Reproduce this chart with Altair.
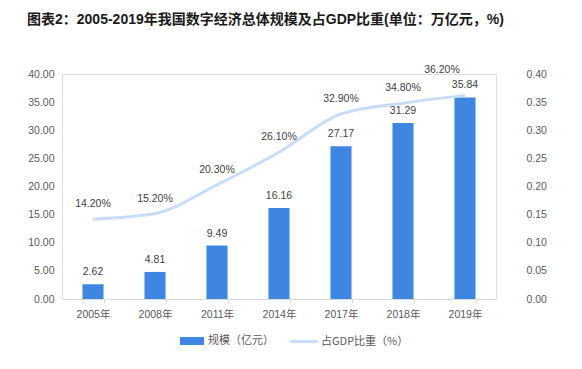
import altair as alt
import pandas as pd

years = ["2005年", "2008年", "2011年", "2014年", "2017年", "2018年", "2019年"]
scale_vals = [2.62, 4.81, 9.49, 16.16, 27.17, 31.29, 35.84]
share_vals = [0.142, 0.152, 0.203, 0.261, 0.329, 0.348, 0.362]
left_ticks = [0, 5, 10, 15, 20, 25, 30, 35, 40]
right_ticks = [0, 0.05, 0.10, 0.15, 0.20, 0.25, 0.30, 0.35, 0.40]

df = pd.DataFrame({
    "year": years,
    "scale": scale_vals,
    "share": share_vals,
    "s1": "规模（亿元）",
    "s2": "占GDP比重（%）",
})

FONT = "Liberation Sans, Noto Sans CJK SC"
FS = 10.5
BAR = "#3f86e0"
LINE = "#c6dcf7"

x = alt.X("year:N", sort=years, title=None,
          scale=alt.Scale(paddingInner=0.66, paddingOuter=0.33),
          axis=alt.Axis(labelAngle=0, labelFont=FONT, labelFontSize=FS, labelColor="#595959",
                        domainColor="#d9d9d9", tickColor="#d9d9d9", tickBand="extent",
                        tickSize=4, labelPadding=6))

base = alt.Chart(df)

yl = alt.Y("scale:Q", title=None, scale=alt.Scale(domain=[0, 40]),
           axis=alt.Axis(values=left_ticks, format=".2f", grid=False, domain=False, ticks=False,
                         labelFont=FONT, labelFontSize=FS, labelColor="#595959", labelPadding=8,
                         labelOverlap=False))

bars = base.mark_bar().encode(
    x=x,
    y=yl,
    color=alt.Color("s1:N", scale=alt.Scale(range=[BAR]), title=None,
                    legend=alt.Legend(orient="none", legendX=121, legendY=258,
                                      symbolType="M-1.5,-0.5H1.5V0.5H-1.5Z", symbolSize=256,
                                      labelOffset=7,
                                      labelFont="Noto Sans CJK SC", labelFontSize=11,
                                      labelColor="#595959")),
)

bar_text = base.mark_text(baseline="middle", dy=-12, font=FONT, fontSize=FS, color="#404040").encode(
    x=x,
    y=yl,
    text=alt.Text("scale:Q", format=".2f"),
)

left = alt.layer(bars, bar_text)

yr = alt.Y("share:Q", title=None, scale=alt.Scale(domain=[0, 0.4]),
           axis=alt.Axis(orient="right", values=right_ticks, format=".2f", grid=False, domain=False,
                         ticks=False, labelFont=FONT, labelFontSize=FS, labelColor="#595959",
                         labelPadding=30, labelOverlap=False))

line = base.mark_line(strokeWidth=3, interpolate="monotone").encode(
    x=x,
    y=yr,
    stroke=alt.Stroke("s2:N", scale=alt.Scale(range=[LINE]), title=None,
                      legend=alt.Legend(orient="none", legendX=227, legendY=252.5,
                                        symbolType="stroke", symbolSize=729, symbolStrokeWidth=3,
                                        labelOffset=2,
                                        labelFont="Noto Sans CJK SC", labelFontSize=11,
                                        labelColor="#595959")),
)

line_text = alt.Chart(df.iloc[:-1]).mark_text(baseline="middle", dy=-15, font=FONT, fontSize=FS,
                                              color="#404040").encode(
    x=x,
    y=yr,
    text=alt.Text("share:Q", format=".2%"),
)
last_text = alt.Chart(df.iloc[-1:]).mark_text(baseline="middle", dy=-25, dx=-23, font=FONT,
                                              fontSize=FS, color="#404040").encode(
    x=x,
    y=yr,
    text=alt.Text("share:Q", format=".2%"),
)

right = alt.layer(line, line_text, last_text)

chart = alt.layer(left, right).resolve_scale(y="independent", color="independent").properties(
    width=434, height=225,
    autosize=alt.AutoSizeParams(type="none"),
    padding={"left": 54, "top": 66, "right": 78, "bottom": 62},
    title=alt.TitleParams("图表2：2005-2019年我国数字经济总体规模及占GDP比重(单位：万亿元，%)",
                          anchor="start", frame="group", dx=-35, offset=38,
                          font="Liberation Sans, Noto Sans CJK SC",
                          fontSize=14, fontWeight="bold", color="#1a1a1a"),
).configure_view(stroke=None).configure(background="white")

chart.save("out.html", embed_options={"renderer": "svg", "actions": False})
